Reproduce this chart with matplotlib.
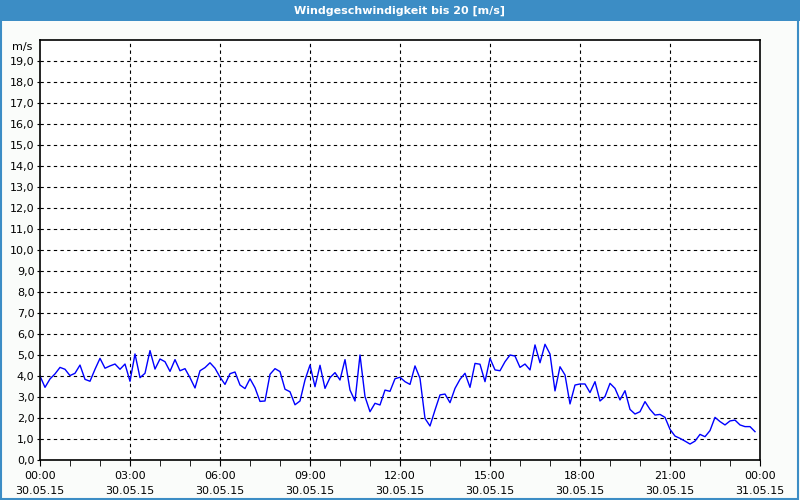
import numpy as np
import matplotlib.pyplot as plt
from matplotlib.patches import Rectangle

# wind speed every 10 minutes, 30.05.15 00:00 .. 23:50
wind = [
    4.0, 3.46, 3.86, 4.1, 4.41, 4.32, 4.02, 4.13, 4.52, 3.84,
    3.75, 4.32, 4.84, 4.37, 4.48, 4.57, 4.32, 4.57, 3.75, 5.05,
    3.92, 4.13, 5.21, 4.33, 4.81, 4.68, 4.22, 4.78, 4.25, 4.35,
    3.92, 3.43, 4.25, 4.4, 4.63, 4.37, 3.95, 3.6, 4.11, 4.19,
    3.57, 3.4, 3.87, 3.44, 2.79, 2.81, 4.08, 4.35, 4.21, 3.37,
    3.25, 2.63, 2.81, 3.81, 4.52, 3.49, 4.51, 3.41, 3.92, 4.16,
    3.81, 4.78, 3.33, 2.81, 5.0, 3.02, 2.3, 2.7, 2.62, 3.33,
    3.27, 3.87, 3.94, 3.73, 3.6, 4.48, 3.89, 1.98, 1.62, 2.38,
    3.1, 3.14, 2.73, 3.41, 3.84, 4.13, 3.46, 4.6, 4.56, 3.73,
    4.84, 4.29, 4.25, 4.68, 5.0, 4.95, 4.41, 4.57, 4.29, 5.48,
    4.63, 5.51, 5.05, 3.29, 4.44, 4.05, 2.67, 3.57, 3.62, 3.62,
    3.21, 3.73, 2.81, 3.02, 3.65, 3.41, 2.86, 3.3, 2.41, 2.19,
    2.3, 2.78, 2.41, 2.14, 2.17, 2.03, 1.46, 1.14, 1.03, 0.9,
    0.76, 0.9, 1.22, 1.11, 1.4, 2.03, 1.83, 1.67, 1.86, 1.9,
    1.67, 1.59, 1.59, 1.35,
]
hours = np.arange(len(wind)) / 6.0

x_ticks = [0, 3, 6, 9, 12, 15, 18, 21, 24]
x_labels = ["00:00\n30.05.15", "03:00\n30.05.15", "06:00\n30.05.15",
            "09:00\n30.05.15", "12:00\n30.05.15", "15:00\n30.05.15",
            "18:00\n30.05.15", "21:00\n30.05.15", "00:00\n31.05.15"]
y_ticks = list(range(0, 20))
y_labels = [f"{v},0" for v in y_ticks]

fig = plt.figure(figsize=(8, 5), dpi=100, facecolor="#fafcfa")

# title bar and window border
fig.patches.append(Rectangle((0, 1 - 21 / 500), 1, 21 / 500, transform=fig.transFigure,
                             facecolor="#3c8dc5", edgecolor="none"))
fig.patches.append(Rectangle((0.001, 0.002), 0.997, 0.996, transform=fig.transFigure,
                             facecolor="none", edgecolor="#3c8dc5", linewidth=1.5))
fig.text(0.5, 1 - 10.5 / 500, "Windgeschwindigkeit bis 20 [m/s]", color="white",
         fontsize=8, fontweight="bold", ha="center", va="center")

ax = fig.add_axes([40 / 800, 40 / 500, 720 / 800, 420 / 500])
ax.set_facecolor("white")
ax.plot(hours, wind, color="#0000ff", linewidth=1)

ax.set_xlim(0, 24)
ax.set_ylim(0, 20)
ax.set_xticks(x_ticks)
ax.set_xticklabels(x_labels, fontsize=8, linespacing=1.6)
ax.set_xticks(range(0, 25), minor=True)
ax.set_yticks(y_ticks)
ax.set_yticklabels(y_labels, fontsize=8)
ax.tick_params(axis="x", which="both", direction="out", length=4, pad=4)
ax.tick_params(axis="y", direction="out", length=2, pad=2)

for v in y_ticks[1:]:
    ax.axhline(v, color="black", linestyle=(0, (3, 3)), linewidth=0.8, zorder=0)
for v in x_ticks[1:-1]:
    ax.axvline(v, color="black", linestyle=(0, (3, 3)), linewidth=0.8, zorder=0)

for s in ax.spines.values():
    s.set_linewidth(1.2)

ax.text(-0.01, 19.65, "m/s", transform=ax.get_yaxis_transform(), ha="right", va="center",
        fontsize=8)

fig.savefig("out.png", dpi=100, facecolor=fig.get_facecolor())
